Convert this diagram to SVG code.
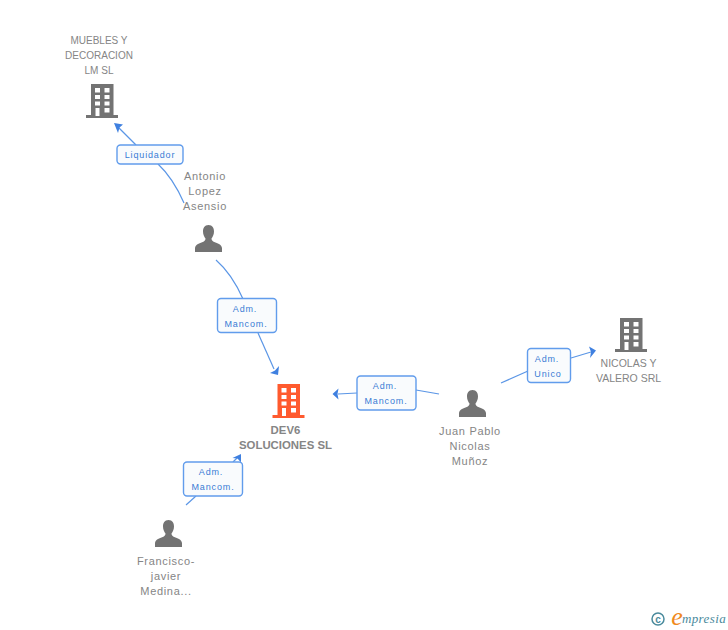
<svg xmlns="http://www.w3.org/2000/svg" width="728" height="630" viewBox="0 0 728 630">
<style>
text{font-family:"Liberation Sans",Arial,sans-serif;font-size:10px;fill:#858585;text-anchor:middle}
.n{font-size:10.500px}
.p{font-size:11px;letter-spacing:.68px}
.b{font-weight:bold;font-size:11.400px}
.l{font-size:9px;fill:#3a7bd5;letter-spacing:.85px}
.c{fill:none;stroke:#5b96e6;stroke-width:1.2}
.a{fill:#3f80e0}
.box{fill:#f9fbfd;stroke:#619cec;stroke-width:1.4}
</style>
<defs>
<symbol id="bld" viewBox="0 0 32 34" width="32" height="34" overflow="visible">
<path fill-rule="evenodd" d="M5 0H27.500V31H32V34H0V31H5ZM9 4V8.500H14V4ZM18.500 4V8.500H23.500V4ZM9 11V15H14V11ZM18.500 11V15H23.500V11ZM9 17.500V21.500H14V17.500ZM18.500 17.500V21.500H23.500V17.500ZM9.500 24V32H13.500V24ZM18.500 24V28.500H23.500V24Z"/>
</symbol>
<symbol id="per" viewBox="0 0 27 27" width="27" height="27" overflow="visible">
<path d="M13.500 0C9.500 0 8 3 8 6.500C8 9.500 9.300 12 10.500 13.500C10.500 15.500 9.500 16.300 6.500 17.500C3 19 .5 19.800 0 23V27H27V23C26.500 19.800 24 19 20.500 17.500C17.500 16.300 16.500 15.500 16.500 13.500C17.700 12 19 9.500 19 6.500C19 3 17.500 0 13.500 0Z"/>
</symbol>
</defs>
<g id="connectors">
<path class="c" d="M184 203Q173 178 158 164"/>
<path class="c" d="M136 145L118 127"/>
<path class="a" d="M114 123L123 124.500L119.500 127.500L118 133Z"/>
<path class="c" d="M216 260Q232 274 243 299"/>
<path class="c" d="M258 333L274 369"/>
<path class="a" d="M278 375L270 373L275 370.500L279 366Z"/>
<path class="c" d="M439 394L416 390"/>
<path class="c" d="M357 393L338 394"/>
<path class="a" d="M332.500 394L338.500 388.500L337.500 394L338.500 399.500Z"/>
<path class="c" d="M501 383L528 371"/>
<path class="c" d="M571 358L591 352"/>
<path class="a" d="M596 350.500L589 346.500L591 352L590 358Z"/>
<path class="c" d="M186 505L196 496"/>
<path class="c" d="M233 462L238 457"/>
<path class="a" d="M241 454V462.500L237.500 458.500L232.500 458Z"/>
</g>
<g id="node-muebles">
<use href="#bld" x="86" y="84" fill="#737373"/>
<text x="99" y="44">MUEBLES Y</text><text x="99" y="59">DECORACION</text><text x="99" y="74">LM SL</text>
</g>
<g id="node-antonio">
<text class="p" x="205" y="180">Antonio</text><text class="p" x="205" y="195">Lopez</text><text class="p" x="205" y="210">Asensio</text>
<use href="#per" x="195" y="225" fill="#737373"/>
</g>
<g id="node-dev6">
<use href="#bld" x="272.500" y="384" fill="#ff5a2e"/>
<text class="b" x="285.500" y="434">DEV6</text><text class="b" x="285.500" y="449">SOLUCIONES SL</text>
</g>
<g id="node-juan">
<use href="#per" x="459" y="390" fill="#737373"/>
<text class="p" x="470" y="435">Juan Pablo</text><text class="p" x="470" y="450">Nicolas</text><text class="p" x="470" y="465">Muñoz</text>
</g>
<g id="node-nicolas">
<use href="#bld" x="615" y="318" fill="#737373"/>
<text class="n" x="628.500" y="367">NICOLAS Y</text><text class="n" x="628.500" y="382">VALERO SRL</text>
</g>
<g id="node-francisco">
<use href="#per" x="155" y="520" fill="#737373"/>
<text class="p" x="166" y="565">Francisco-</text><text class="p" x="166" y="580">javier</text><text class="p" x="166" y="595">Medina...</text>
</g>
<g id="label-liquidador">
<rect class="box" x="117" y="145" width="66" height="19" rx="3.500"/>
<text class="l" x="150" y="158">Liquidador</text>
</g>
<g id="label-adm1">
<rect class="box" x="217.500" y="298.500" width="59" height="34" rx="3.500"/>
<text class="l" x="245" y="312">Adm.</text><text class="l" x="246" y="327">Mancom.</text>
</g>
<g id="label-adm2">
<rect class="box" x="357" y="376" width="59" height="34" rx="3.500"/>
<text class="l" x="385" y="389">Adm.</text><text class="l" x="386" y="404">Mancom.</text>
</g>
<g id="label-adm3">
<rect class="box" x="527.500" y="348.500" width="43" height="34" rx="3.500"/>
<text class="l" x="547" y="362">Adm.</text><text class="l" x="548" y="377">Unico</text>
</g>
<g id="label-adm4">
<rect class="box" x="183.500" y="462" width="59" height="34" rx="3.500"/>
<text class="l" x="211" y="475">Adm.</text><text class="l" x="213" y="490">Mancom.</text>
</g>
<g id="watermark">
<circle cx="658" cy="619" r="6" fill="none" stroke="#4a8a9c" stroke-width="1.500"/>
<text x="658" y="622.500" style="font-size:10px;fill:#4a8a9c;font-weight:bold">c</text>
<text x="677" y="625" style="font-family:'Liberation Serif',serif;font-style:italic;font-size:26px;fill:#f08a1d">e</text>
<text x="704" y="623" style="font-family:'Liberation Serif',serif;font-style:italic;font-size:13px;fill:#4a8a9c;letter-spacing:.4px">mpresia</text>
</g>
</svg>
